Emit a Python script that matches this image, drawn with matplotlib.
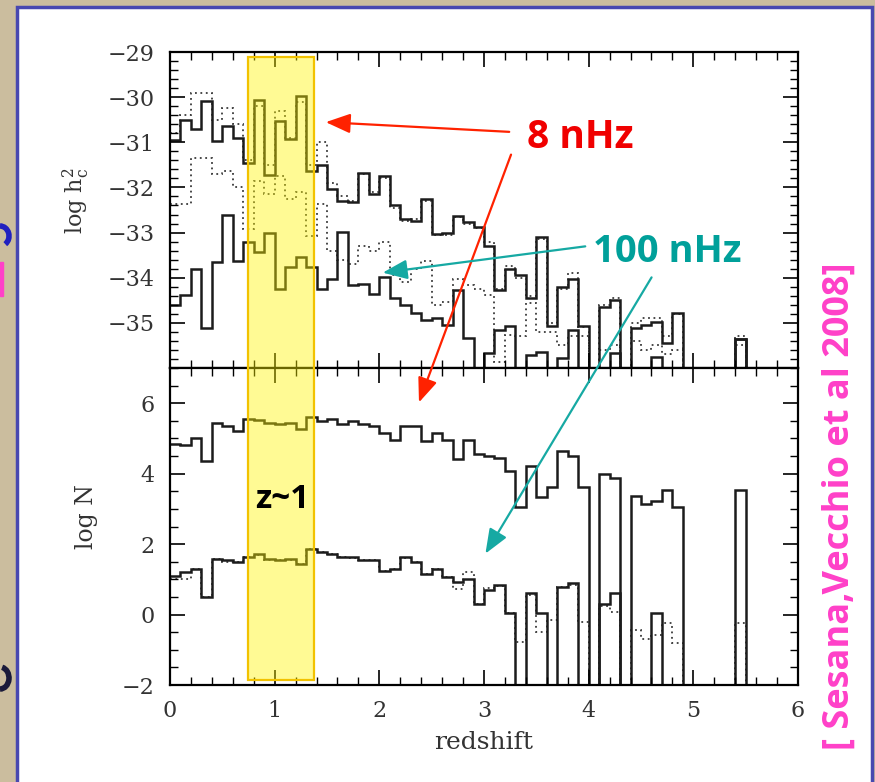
import numpy as np
import matplotlib.pyplot as plt
import matplotlib.transforms as mtransforms
from matplotlib.patches import Rectangle, FancyArrowPatch, Arc
from matplotlib.ticker import MultipleLocator

OFF = -99.0  # empty bin, the step drops to the axis

z_edges = np.linspace(0.0, 6.0, 61)

# top panel: log h_c^2 per redshift bin
hc_8nhz = [-30.94, -30.50, -30.70, -30.09, -30.98, -30.63, -30.90, -31.45, -30.06, -31.73,
           -30.53, -30.92, -29.97, -31.64, -31.51, -32.04, -32.30, -32.33, -31.67, -32.15,
           -31.75, -32.40, -32.70, -32.74, -32.26, -33.03, -33.00, -32.63, -32.77, -32.88,
           -33.29, -34.28, -33.80, -33.95, -34.46, -33.10, -35.08, -34.20, -34.02, -35.08,
           OFF, -34.64, -34.50, OFF, -35.12, -35.05, -34.98, -35.45, -34.79, OFF,
           OFF, OFF, OFF, OFF, -35.36, OFF, OFF, OFF, OFF, OFF]
hc_8nhz_dot = [-30.80, -30.40, -29.90, -29.90, -30.50, -30.25, -30.60, -31.40, -30.20, -31.50,
               -30.30, -30.90, -30.10, -31.50, -31.00, -31.90, -32.20, -32.30, -31.70, -32.10,
               -31.80, -32.45, -32.75, -32.70, -32.30, -33.05, -33.05, -32.65, -32.80, -32.90,
               -33.20, -34.25, -33.75, -34.00, -34.40, -33.15, -35.00, -34.25, -33.90, -35.10,
               OFF, -34.60, -34.45, OFF, -35.00, -34.90, -34.90, -35.30, -34.80, OFF,
               OFF, OFF, OFF, OFF, -35.30, OFF, OFF, OFF, OFF, OFF]
hc_100nhz = [-34.60, -34.39, -33.80, -35.12, -33.65, -32.60, -33.62, -33.21, -33.43, -33.00,
             -34.25, -33.76, -33.54, -33.76, -34.25, -34.02, -32.98, -34.17, -34.13, -34.35,
             -33.98, -34.46, -34.61, -34.79, -34.94, -34.90, -35.05, -34.28, -35.34, OFF,
             -35.67, -35.16, -35.08, OFF, -35.71, -35.64, OFF, -35.78, -35.16, OFF,
             OFF, OFF, -35.67, OFF, OFF, OFF, -35.75, OFF, OFF, OFF,
             OFF, OFF, OFF, OFF, -35.36, OFF, OFF, OFF, OFF, OFF]
hc_100nhz_dot = [-32.37, -32.37, -31.34, -31.34, -31.70, -31.64, -32.00, -32.92, -31.86, -32.15,
                 -31.75, -32.26, -32.10, -33.07, -32.37, -33.40, -33.60, -33.70, -33.29, -33.40,
                 -33.21, -33.95, -34.10, -33.80, -33.62, -34.61, -34.54, -34.02, -34.17, -34.24,
                 -34.39, -35.86, -35.27, -35.30, -34.57, -35.20, -35.20, -35.50, -35.30, -35.30,
                 OFF, -35.60, -35.50, OFF, -35.40, -35.60, -35.50, -35.70, -35.60, OFF,
                 OFF, OFF, OFF, OFF, -35.50, OFF, OFF, OFF, OFF, OFF]

# bottom panel: log N per redshift bin
n_8nhz = [4.83, 4.80, 5.02, 4.36, 5.44, 5.35, 5.21, 5.54, 5.51, 5.44,
          5.40, 5.44, 5.26, 5.60, 5.49, 5.54, 5.40, 5.49, 5.40, 5.35,
          5.16, 4.97, 5.35, 5.35, 4.93, 5.16, 4.97, 4.41, 4.97, 4.55,
          4.50, 4.45, 4.08, 3.04, 4.22, 3.33, 3.61, 4.64, 4.50, 3.61,
          OFF, 3.99, 3.89, OFF, 3.37, 3.14, 3.23, 3.53, 3.04, OFF,
          OFF, OFF, OFF, OFF, 3.53, OFF, OFF, OFF, OFF, OFF]
n_100nhz = [1.10, 1.21, 1.30, 0.50, 1.58, 1.56, 1.49, 1.63, 1.73, 1.58,
            1.54, 1.58, 1.44, 1.87, 1.77, 1.71, 1.63, 1.63, 1.56, 1.54,
            1.25, 1.30, 1.63, 1.49, 1.16, 1.30, 1.07, 0.92, 1.02, 0.31,
            0.69, 0.83, 0.03, OFF, 0.60, 0.03, OFF, 0.78, 0.90, OFF,
            OFF, 0.31, 0.61, OFF, OFF, OFF, 0.03, OFF, OFF, OFF,
            OFF, OFF, OFF, OFF, OFF, OFF, OFF, OFF, OFF, OFF]
n_100nhz_dot = [1.00, 1.00, 1.30, 0.50, 1.58, 1.50, 1.49, 1.63, 1.70, 1.55,
                1.54, 1.55, 1.44, 1.85, 1.77, 1.71, 1.63, 1.60, 1.56, 1.54,
                1.25, 1.30, 1.60, 1.49, 1.16, 1.30, 1.07, 0.72, 1.20, 0.31,
                0.75, 0.80, 0.03, -0.77, 0.55, -0.50, -0.16, 0.78, 0.85, -0.21,
                OFF, 0.25, 0.08, OFF, -0.44, -0.68, -0.58, -0.25, -0.80, OFF,
                OFF, OFF, OFF, OFF, -0.25, OFF, OFF, OFF, OFF, OFF]

z_band = (0.745, 1.377)

plt.rcParams['mathtext.fontset'] = 'dejavuserif'

W, H = 875, 782
fig = plt.figure(figsize=(W / 100, H / 100), dpi=100)
fig.patch.set_facecolor('#cbbd9e')


def fx(px):
    return px / W


def fy(py):
    return 1 - py / H


# white slide panel with blue frame
fig.add_artist(Rectangle((fx(17), fy(800)), fx(872) - fx(17), fy(7) - fy(800),
                         transform=fig.transFigure, facecolor='white',
                         edgecolor='#4848b0', lw=2.5, zorder=-1))
# slivers of the slide's own lettering at the left edge
fig.add_artist(Arc((fx(0), fy(236)), fx(18), fy(0) - fy(20), theta1=-60, theta2=90,
                   transform=fig.transFigure, color='#2020c0', lw=4))
fig.add_artist(Rectangle((0, fy(296)), fx(3), fy(262) - fy(296),
                         transform=fig.transFigure, color='#ff40c8'))
fig.add_artist(Arc((fx(0), fy(678)), fx(18), fy(0) - fy(22), theta1=-90, theta2=80,
                   transform=fig.transFigure, color='#1a1a3a', lw=4))

ax1 = fig.add_axes([fx(170), fy(368), fx(798) - fx(170), fy(52) - fy(368)])
ax2 = fig.add_axes([fx(170), fy(685), fx(798) - fx(170), fy(368) - fy(685)])

solid = dict(color='#1c1c1c', lw=1.8, baseline=None)
dotted = dict(color='#3a3a3a', lw=1.3, linestyle=(0, (1, 2)), baseline=None)

ax1.stairs(hc_8nhz_dot, z_edges, **dotted)
ax1.stairs(hc_100nhz_dot, z_edges, **dotted)
ax1.stairs(hc_8nhz, z_edges, **solid)
ax1.stairs(hc_100nhz, z_edges, **solid)

ax2.stairs(n_100nhz_dot, z_edges, **dotted)
ax2.stairs(n_8nhz, z_edges, **solid)
ax2.stairs(n_100nhz, z_edges, **solid)

ax1.set_yticks(range(-35, -28))
ax1.yaxis.set_minor_locator(MultipleLocator(0.2))
ax1.set_ylim(-36, -29)
ax2.set_yticks([-2, 0, 2, 4, 6])
ax2.yaxis.set_minor_locator(MultipleLocator(0.5))
ax2.set_ylim(-2, 7)

for ax in (ax1, ax2):
    ax.xaxis.set_major_locator(MultipleLocator(1))
    ax.xaxis.set_minor_locator(MultipleLocator(0.2))
    ax.set_xlim(0, 6)
    ax.tick_params(which='both', direction='in', top=True, right=True,
                   labelcolor='#333333', labelsize=16, pad=11)
    ax.tick_params(which='major', length=11, width=1.2)
    ax.tick_params(which='minor', length=5.5, width=1.0)
    for s in ax.spines.values():
        s.set_linewidth(1.6)
    for lab in ax.get_xticklabels() + ax.get_yticklabels():
        lab.set_family('DejaVu Serif')
ax1.tick_params(labelbottom=False)

ax1.set_ylabel(r'log h$_{\rm c}^{2}$', family='DejaVu Serif', fontsize=16, color='#333333')
ax1.yaxis.set_label_coords(-0.124, 0.53)
ax2.set_ylabel('log N', family='DejaVu Serif', fontsize=17, color='#333333')
ax2.yaxis.set_label_coords(-0.115, 0.53)
ax2.set_xlabel('redshift', family='DejaVu Serif', fontsize=18, color='#333333', labelpad=6)

# z~1 band across both panels
band_tr = mtransforms.blended_transform_factory(ax2.transData, fig.transFigure)
fig.add_artist(Rectangle((z_band[0], fy(680)), z_band[1] - z_band[0], fy(57) - fy(680),
                         transform=band_tr, facecolor='#fff500', alpha=0.42,
                         edgecolor='none', zorder=5))
fig.add_artist(Rectangle((z_band[0], fy(680)), z_band[1] - z_band[0], fy(57) - fy(680),
                         transform=band_tr, fill=False, edgecolor='#f2c200',
                         lw=1.6, zorder=6))
fig.text(fx(282), fy(500), 'z~1', ha='center', va='center', fontsize=24,
         fontweight='bold', family=['Open Sans', 'DejaVu Sans'], color='black', zorder=7)

# annotations
red, teal = '#ff2200', '#16a9a3'
fig.text(fx(580), fy(137), '8 nHz', ha='center', va='center', fontsize=28,
         fontweight='bold', family=['Open Sans', 'DejaVu Sans'], color='#f00000')
fig.text(fx(667), fy(252), '100 nHz', ha='center', va='center', fontsize=27.5,
         fontweight='bold', family=['Open Sans', 'DejaVu Sans'], color='#00a09a')

arrows = [((512, 132), (323, 122), red), ((512, 152), (418, 405), red),
          ((588, 246), (380, 273), teal), ((653, 275), (484, 556), teal)]
for (x0, y0), (x1, y1), c in arrows:
    fig.add_artist(FancyArrowPatch((fx(x0), fy(y0)), (fx(x1), fy(y1)),
                                   transform=fig.transFigure,
                                   arrowstyle='-|>,head_length=0.75,head_width=0.3',
                                   mutation_scale=20, color=c, lw=1.6, zorder=8))

fig.text(fx(840), fy(506), '[ Sesana,Vecchio et al 2008]', rotation=90,
         ha='center', va='center', fontsize=26, fontweight='bold',
         family=['Open Sans', 'DejaVu Sans'], color='#ff40c8')

fig.savefig('out.png', dpi=100, facecolor=fig.get_facecolor())
